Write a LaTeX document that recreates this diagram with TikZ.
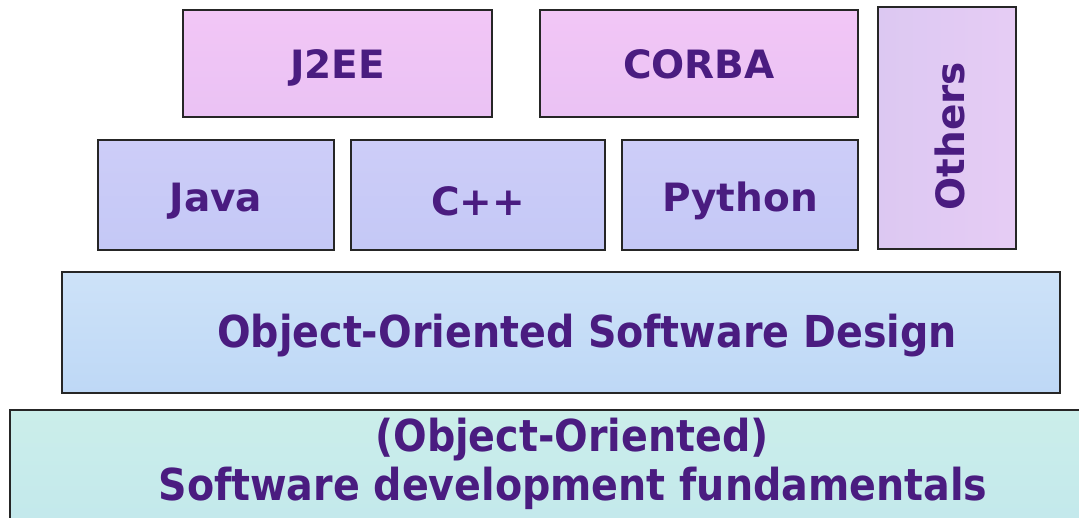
\documentclass[tikz,border=0pt]{standalone}
\usepackage{fontspec}
\setmainfont{DejaVu Sans}
\newfontfamily\lblfont{DejaVu Sans Bold}
\newfontfamily\condfont{DejaVu Sans Condensed Bold}
\definecolor{txt}{HTML}{4A1C80}
\definecolor{pinkf}{HTML}{F2C6F6}
\definecolor{pinkf2}{HTML}{EAC2F4}
\definecolor{lavf}{HTML}{CDCDF8}
\definecolor{lavf2}{HTML}{C4C8F6}
\definecolor{othf}{HTML}{DCC8F2}
\definecolor{othf2}{HTML}{E6CCF4}
\definecolor{bluef}{HTML}{CDE2F8}
\definecolor{bluef2}{HTML}{BED8F6}
\definecolor{mintf}{HTML}{CBEEEA}
\definecolor{mintf2}{HTML}{C2E8EC}
\newcommand{\lowered}[2]{\raisebox{-#1}[\height][\depth]{#2}}
\tikzset{
  layer/.style={draw=black!85, line width=1.6pt, inner sep=0pt, text=txt, align=center},
  bigfont/.style={font=\lblfont\fontsize{39}{44}\selectfont},
  fundfont/.style={font=\condfont\fontsize{44}{48}\selectfont},
  pinkbox/.style={layer, top color=pinkf, bottom color=pinkf2, bigfont},
  lavbox/.style={layer, top color=lavf, bottom color=lavf2, bigfont},
  othbox/.style={layer, left color=othf, right color=othf2},
  bluebox/.style={layer, top color=bluef, bottom color=bluef2, font=\condfont\fontsize{44}{48}\selectfont},
  mintbox/.style={layer, top color=mintf, bottom color=mintf2},
  lbl/.style={text=txt, inner sep=0pt},
}
\begin{document}
\begin{tikzpicture}[x=1pt,y=-1pt]
\useasboundingbox (0,0) rectangle (1079,517);
\clip (0,0) rectangle (1079,517);
\fill[white] (0,0) rectangle (1079,517);
% top row
\node[pinkbox, minimum width=309pt, minimum height=107pt] (j2ee) at (337.5,63.5) {\lowered{4pt}{J2EE}};
\node[pinkbox, minimum width=318pt, minimum height=107pt] (corba) at (699,63.5) {\lowered{1pt}{CORBA}};
\node[othbox, minimum width=138pt, minimum height=242pt] (others) at (947,128) {};
\node[lbl, bigfont, rotate=90] (otherstxt) at (950,136) {Others};
% middle row
\node[lavbox, minimum width=236pt, minimum height=110pt] (java) at (216,195) {\lowered{6pt}{Java}};
\node[lavbox, minimum width=254pt, minimum height=110pt] (cpp) at (478,195) {\lowered{6pt}{C++}};
\node[lavbox, minimum width=236pt, minimum height=110pt] (python) at (740,195) {\lowered{6pt}{Python}};
% design layer
\node[bluebox, minimum width=998pt, minimum height=121pt] (design) at (561,332.5) {\hspace*{52pt}\lowered{3pt}{Object-Oriented Software Design}};
% fundamentals layer (cut off at right and bottom)
\node[mintbox, minimum width=1085pt, minimum height=130pt] (fund) at (552.5,475) {};
\node[lbl, fundfont] (fund1) at (572,440) {(Object-Oriented)};
\node[lbl, fundfont] (fund2) at (573,488) {Software development fundamentals};
\end{tikzpicture}
\end{document}
